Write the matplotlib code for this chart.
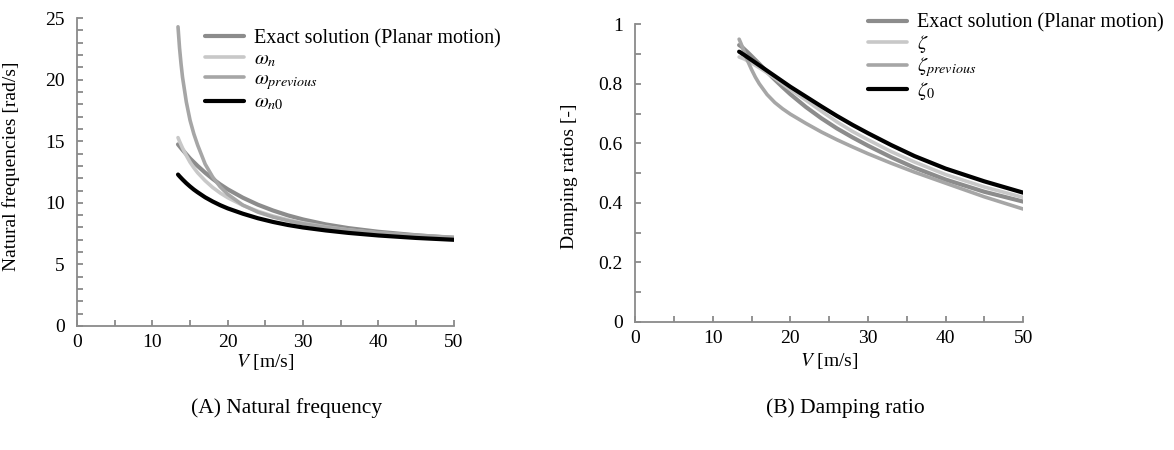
import numpy as np
import matplotlib
matplotlib.use("Agg")
import matplotlib.pyplot as plt
from matplotlib.ticker import MultipleLocator

plt.rcParams["font.family"] = ["Liberation Serif", "DejaVu Serif"]
plt.rcParams["mathtext.fontset"] = "stix"

# ---- data ----
V = [13.4, 13.6, 13.8, 14, 14.5, 15, 15.5, 16, 17, 18, 19, 20, 22, 24, 26, 28, 30, 33, 36, 40, 45, 50]

# (A) natural frequencies [rad/s]
w_exact = [14.75, 14.6, 14.45, 14.3, 13.95, 13.6, 13.3, 13.0, 12.45, 11.95, 11.5, 11.1,
           10.42, 9.85, 9.38, 8.98, 8.65, 8.25, 7.95, 7.65, 7.37, 7.15]
w_n     = [15.3, 15.0, 14.72, 14.45, 13.85, 13.3, 12.85, 12.45, 11.8, 11.25, 10.8, 10.42,
           9.8, 9.32, 8.93, 8.62, 8.37, 8.05, 7.8, 7.55, 7.33, 7.18]
w_prev  = [24.3, 22.6, 21.3, 20.2, 18.2, 16.7, 15.6, 14.7, 13.15, 12.1, 11.3, 10.7,
           9.82, 9.25, 8.85, 8.55, 8.3, 8.02, 7.8, 7.57, 7.37, 7.2]
w_n0    = [12.3, 12.16, 12.03, 11.9, 11.6, 11.33, 11.08, 10.86, 10.45, 10.11, 9.81, 9.55,
           9.12, 8.75, 8.45, 8.2, 8.0, 7.76, 7.56, 7.35, 7.15, 7.0]

# (B) damping ratios [-]
z_exact = [0.930, 0.927, 0.923, 0.918, 0.906, 0.893, 0.880, 0.867, 0.840, 0.814, 0.789, 0.765,
           0.722, 0.684, 0.650, 0.620, 0.592, 0.553, 0.518, 0.478, 0.437, 0.404]
z       = [0.890, 0.888, 0.886, 0.884, 0.877, 0.870, 0.862, 0.854, 0.837, 0.819, 0.800, 0.781,
           0.745, 0.708, 0.672, 0.640, 0.612, 0.572, 0.537, 0.495, 0.453, 0.418]
z_prev  = [0.950, 0.938, 0.925, 0.911, 0.877, 0.848, 0.822, 0.800, 0.764, 0.737, 0.716, 0.698,
           0.667, 0.638, 0.612, 0.588, 0.565, 0.533, 0.503, 0.466, 0.420, 0.379]
z_0     = [0.908, 0.905, 0.901, 0.898, 0.889, 0.880, 0.871, 0.862, 0.844, 0.826, 0.808, 0.790,
           0.757, 0.724, 0.692, 0.662, 0.634, 0.594, 0.557, 0.515, 0.472, 0.434]

C_EXACT, C_LIGHT, C_PREV, C_ZERO = "#8c8c8c", "#c8c8c8", "#a6a6a6", "#000000"
AX_C = "#8a8a8a"
FS = 14


def _style(ax, ymax, ymajor, yminor, yticklabels):
    for sp in ["top", "right"]:
        ax.spines[sp].set_visible(False)
    for sp in ["left", "bottom"]:
        ax.spines[sp].set_color(AX_C)
        ax.spines[sp].set_linewidth(1.3)
    ax.set_xlim(0, 50)
    ax.set_ylim(0, ymax)
    ax.xaxis.set_major_locator(MultipleLocator(10))
    ax.xaxis.set_minor_locator(MultipleLocator(5))
    ax.yaxis.set_minor_locator(MultipleLocator(yminor))
    ax.set_yticks(np.arange(0, ymax + ymajor / 2, ymajor))
    ax.set_yticklabels(yticklabels)
    ax.tick_params(which="both", direction="in", color=AX_C, width=1.3, length=4,
                   labelsize=FS, labelcolor="black")
    ax.tick_params(axis="x", which="both", pad=6)
    ax.tick_params(axis="y", which="both", pad=9)
    ax.set_xlabel(r"$V$ [m/s]", fontsize=FS)


def _legend(ax, x, y, spacing):
    ax.legend(loc="upper left", bbox_to_anchor=(x, y), bbox_transform=fig.transFigure,
              frameon=False, fontsize=14.5, handlelength=1.95, handletextpad=0.5,
              labelspacing=spacing, borderaxespad=0, borderpad=0)


fig = plt.figure(figsize=(11.74, 4.5), dpi=100)

# ---- (A) natural frequency ----
axA = fig.add_axes([0.0656, 0.2756, 0.321, 0.684])
axA.plot(V, w_exact, color=C_EXACT, lw=3.0, label="Exact solution (Planar motion)", solid_capstyle="round")
axA.plot(V, w_n, color=C_LIGHT, lw=2.6, label=r"$\omega_n$", solid_capstyle="round")
axA.plot(V, w_prev, color=C_PREV, lw=2.6, label=r"$\omega_{previous}$", solid_capstyle="round")
axA.plot(V, w_n0, color=C_ZERO, lw=3.0, label=r"$\omega_{n0}$", solid_capstyle="round")
_style(axA, 25, 5, 1, ["0", "5", "10", "15", "20", "25"])
axA.set_ylabel("Natural frequencies [rad/s]", fontsize=FS)
axA.yaxis.set_label_coords(-0.15, 0.52)
axA.xaxis.set_label_coords(0.5, -0.084)
_legend(axA, 0.1746, 0.935, 0.07)

# ---- (B) damping ratio ----
axB = fig.add_axes([0.541, 0.285, 0.3305, 0.661])
axB.plot(V, z_exact, color=C_EXACT, lw=3.0, label="Exact solution (Planar motion)", solid_capstyle="round")
axB.plot(V, z, color=C_LIGHT, lw=2.6, label=r"$\zeta$", solid_capstyle="round")
axB.plot(V, z_prev, color=C_PREV, lw=2.6, label=r"$\zeta_{previous}$", solid_capstyle="round")
axB.plot(V, z_0, color=C_ZERO, lw=3.0, label=r"$\zeta_0$", solid_capstyle="round")
_style(axB, 1.0, 0.2, 0.1, ["0", "0.2", "0.4", "0.6", "0.8", "1"])
axB.set_ylabel("Damping ratios [-]", fontsize=FS)
axB.yaxis.set_label_coords(-0.147, 0.49)
axB.xaxis.set_label_coords(0.5, -0.1)
_legend(axB, 0.739, 0.97, 0.02)

fig.text(0.244, 0.093, "(A) Natural frequency", ha="center", va="center", fontsize=15.5)
fig.text(0.72, 0.093, "(B) Damping ratio", ha="center", va="center", fontsize=15.5)

fig.savefig("out.png", dpi=100)
